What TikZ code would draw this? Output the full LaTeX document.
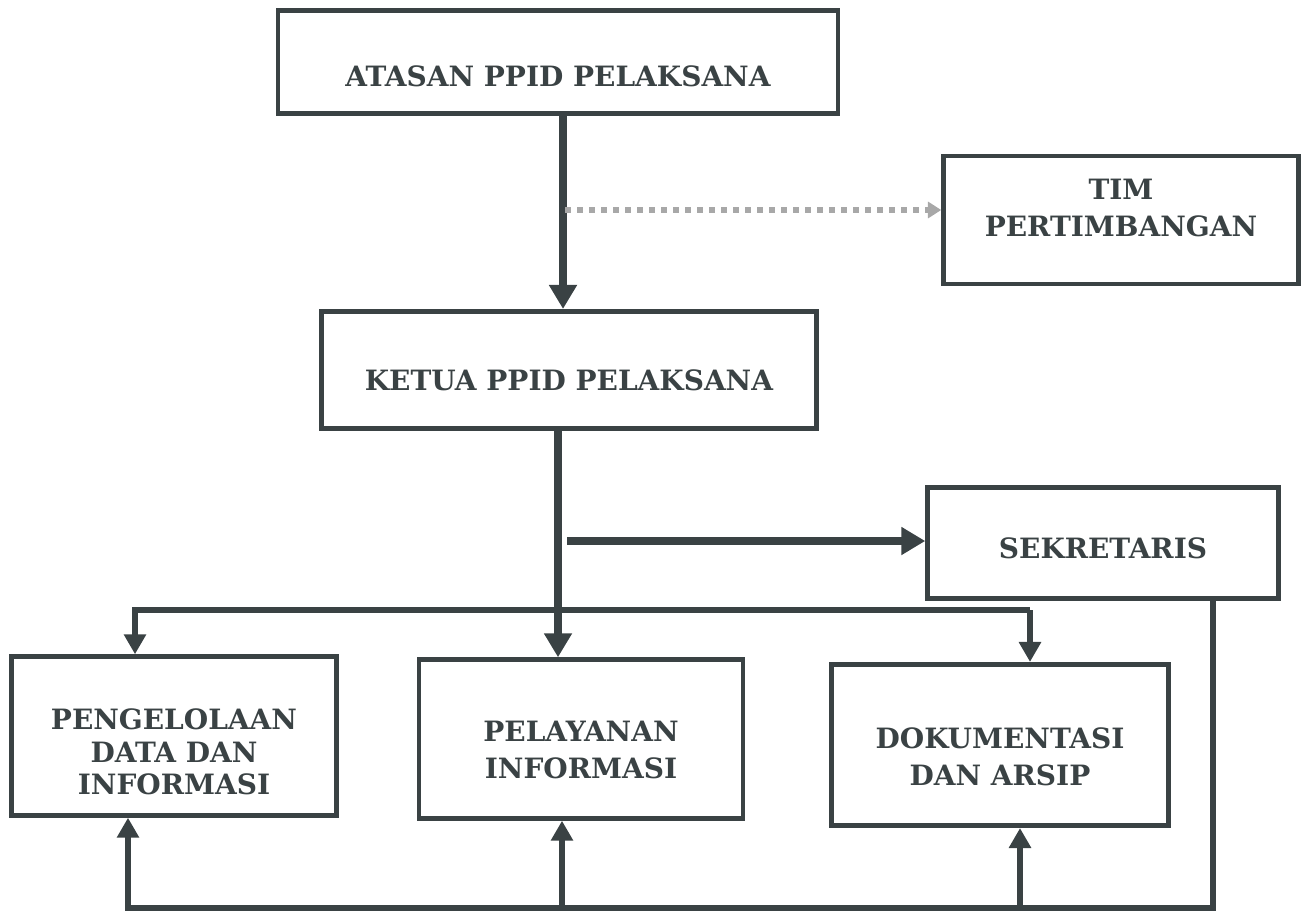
\documentclass[tikz,border=0pt]{standalone}
\usepackage{fontspec}
\setmainfont{DejaVu Serif}
\usetikzlibrary{arrows.meta}
\definecolor{ink}{HTML}{3A4244}
\definecolor{dotgray}{HTML}{A8A8A8}
\begin{document}
\begin{tikzpicture}[x=0.75pt,y=-0.75pt,
  box/.style={draw=ink,line width=3.6pt,rectangle,inner sep=0pt},
  txt/.style={inner sep=0pt,align=center,text=ink,
    font=\bfseries\fontsize{21}{28}\selectfont},
  main/.style={draw=ink,line width=6pt,-{Triangle[width=20pt,length=18pt]}},
  busarrow/.style={draw=ink,line width=3.8pt,-{Triangle[width=16pt,length=15pt]}},
  dotline/.style={draw=dotgray,line width=4.5pt,dash pattern=on 4.5pt off 4.5pt,
    -{Triangle[width=12pt,length=10pt]}}]
\useasboundingbox (0,0) rectangle (1306,920);
\node[box,minimum width=420pt,minimum height=77pt] (atasan) at (558,62) {};
\node[txt,yshift=-11pt] (atasanT) at (atasan.center) {ATASAN PPID PELAKSANA};
\node[box,minimum width=266pt,minimum height=96pt] (tim) at (1121,220) {};
\node[txt,yshift=9pt] (timT) at (tim.center) {TIM\\PERTIMBANGAN};
\node[box,minimum width=371pt,minimum height=88pt] (ketua) at (569,370) {};
\node[txt,yshift=-7.5pt] (ketuaT) at (ketua.center) {KETUA PPID PELAKSANA};
\node[box,minimum width=263pt,minimum height=83pt] (sek) at (1103,543) {};
\node[txt,yshift=-4pt] (sekT) at (sek.center) {SEKRETARIS};
\node[box,minimum width=244pt,minimum height=119pt] (peng) at (174,736) {};
\node[txt,yshift=-12pt,font=\bfseries\fontsize{21}{24.4}\selectfont] (pengT) at (peng.center) {PENGELOLAAN\\DATA DAN\\INFORMASI};
\node[box,minimum width=243pt,minimum height=119pt] (pel) at (581,739) {};
\node[txt,yshift=-8pt] (pelT) at (pel.center) {PELAYANAN\\INFORMASI};
\node[box,minimum width=253pt,minimum height=121pt] (dok) at (1000,745) {};
\node[txt,yshift=-9pt] (dokT) at (dok.center) {DOKUMENTASI\\DAN ARSIP};
% main vertical connectors
\draw[main] (atasan.south -| 563,0) -- (ketua.north -| 563,0);
\draw[main] (ketua.south -| 558,0) -- (pel.north -| 558,0);
% dotted to tim
\coordinate (dotstart) at (565,210);
\draw[dotline] (dotstart) -- (dotstart -| tim.west);
% to sekretaris
\coordinate (sekstart) at (567,541);
\draw[main,line width=5.5pt] (sekstart) -- (sekstart -| sek.west);
% upper bus
\coordinate (ub1) at (135,610);
\coordinate (ub2) at (1030,610);
\draw[busarrow] (ub2) -- (ub2 |- dok.north);
\draw[busarrow] (ub1 -| ub2) -- (ub1) -- (ub1 |- peng.north);
% lower bus from sekretaris
\coordinate (lb) at (1213,908);
\draw[busarrow] (sek.south -| lb) -- (lb) -- (lb -| 128,0) -- (peng.south -| 128,0);
\draw[busarrow] (lb -| 562,0) -- (pel.south -| 562,0);
\draw[busarrow] (lb -| 1020,0) -- (dok.south -| 1020,0);
\end{tikzpicture}
\end{document}
